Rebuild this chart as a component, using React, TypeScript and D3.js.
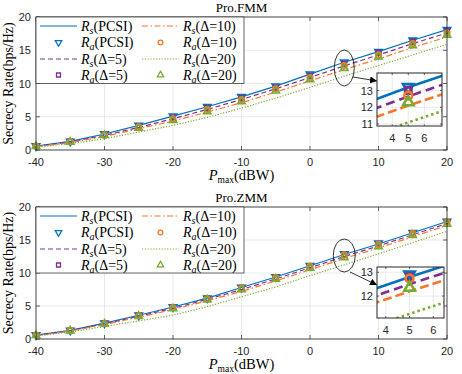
import React, { useRef, useEffect } from "react";
import * as d3 from "d3";

// transmit power grid (dBW)
const powers = [-40, -35, -30, -25, -20, -15, -10, -5, 0, 5, 10, 15, 20];
const xTicks = [-40, -30, -20, -10, 0, 10, 20];
const yTicks = [0, 5, 10, 15, 20];

// Pro.FMM
const fmmRsPcsi = [0.6, 1.3, 2.4, 3.7, 5.1, 6.5, 8.0, 9.6, 11.4, 13.2, 14.8, 16.5, 18.1];
const fmmRsD5 = [0.55, 1.2, 2.2, 3.4, 4.7, 6.1, 7.6, 9.2, 10.9, 12.65, 14.3, 16.0, 17.6];
const fmmRsD10 = [0.5, 1.1, 2.05, 3.2, 4.35, 5.7, 7.1, 8.7, 10.4, 12.1, 13.7, 15.4, 17.0];
const fmmRsD20 = [0.45, 0.95, 1.7, 2.7, 3.7, 4.9, 6.3, 7.8, 9.4, 11.1, 12.7, 14.3, 15.9];
const fmmRaPcsi = [0.6, 1.3, 2.4, 3.7, 5.1, 6.5, 8.0, 9.6, 11.4, 13.2, 14.8, 16.5, 18.1];
const fmmRaD5 = [0.6, 1.3, 2.35, 3.6, 4.9, 6.3, 7.8, 9.4, 11.2, 13.0, 14.6, 16.3, 17.9];
const fmmRaD10 = [0.6, 1.25, 2.3, 3.5, 4.7, 6.1, 7.6, 9.2, 10.9, 12.7, 14.3, 16.0, 17.6];
const fmmRaD20 = [0.55, 1.2, 2.2, 3.3, 4.45, 5.8, 7.3, 8.9, 10.6, 12.3, 14.0, 15.7, 17.3];

// Pro.ZMM
const zmmRsPcsi = [0.6, 1.3, 2.4, 3.6, 4.85, 6.2, 7.8, 9.4, 11.1, 12.8, 14.4, 16.1, 17.8];
const zmmRsD5 = [0.55, 1.25, 2.3, 3.45, 4.65, 6.0, 7.5, 9.1, 10.8, 12.5, 14.1, 15.8, 17.5];
const zmmRsD10 = [0.5, 1.2, 2.2, 3.3, 4.45, 5.8, 7.2, 8.8, 10.5, 12.2, 13.8, 15.5, 17.2];
const zmmRsD20 = [0.45, 1.05, 1.9, 2.75, 3.6, 4.9, 6.4, 7.9, 9.6, 11.25, 12.9, 14.6, 16.3];
const zmmRaPcsi = [0.6, 1.3, 2.4, 3.6, 4.85, 6.2, 7.8, 9.4, 11.1, 12.9, 14.5, 16.1, 17.8];
const zmmRaD5 = [0.6, 1.3, 2.4, 3.6, 4.8, 6.15, 7.75, 9.35, 11.05, 12.8, 14.4, 16.05, 17.75];
const zmmRaD10 = [0.6, 1.3, 2.35, 3.55, 4.75, 6.1, 7.7, 9.3, 11.0, 12.74, 14.35, 16.0, 17.7];
const zmmRaD20 = [0.55, 1.25, 2.3, 3.45, 4.6, 5.95, 7.5, 9.1, 10.75, 12.35, 14.0, 15.7, 17.4];

const labels = ["PCSI", "\u0394=5", "\u0394=10", "\u0394=20"];

const styles = [
  { color: "#0072BD", dash: null, insetDash: null, marker: "down" },
  { color: "#7E2F8E", dash: "5,3", insetDash: "9,5", marker: "square" },
  { color: "#F5782A", dash: "6,2.5,1.5,2.5", insetDash: "9,4", marker: "circle" },
  { color: "#77AC30", dash: "1.2,1.6", insetDash: "2.5,3", marker: "up" },
];

const AXIS = "#262626";
const GRID = "#e3e3e3";
const SERIF = "'Liberation Serif', 'DejaVu Serif', serif";
const SANS = "'Liberation Sans', Arial, sans-serif";

function markerPath(kind, size) {
  const type =
    kind === "square" ? d3.symbolSquare : kind === "circle" ? d3.symbolCircle : d3.symbolTriangle;
  return d3.symbol().type(type).size(size)();
}

function drawMarker(g, kind, cx, cy, size, color, width) {
  g.append("path")
    .attr("d", markerPath(kind, size))
    .attr("transform", `translate(${cx},${cy})${kind === "down" ? " rotate(180)" : ""}`)
    .attr("fill", "none")
    .attr("stroke", color)
    .attr("stroke-width", width);
}

// R with italic subscript, then the bracket part
function richLabel(text, sub, rest) {
  text.append("tspan").attr("font-style", "italic").text("R");
  text.append("tspan").attr("font-style", "italic").attr("font-size", 10).attr("dy", 3).text(sub);
  text.append("tspan").attr("dy", -3).text(`(${rest})`);
}

function drawPanel(svg, cfg) {
  const { top, bottom, title, rs, ra, inset, id } = cfg;
  const left = 36;
  const right = 447;
  const x = d3.scaleLinear().domain([-40, 20]).range([left, right]);
  const y = d3.scaleLinear().domain([0, 20]).range([bottom, top]);
  const g = svg.append("g");

  // grid
  g.selectAll(null)
    .data(xTicks)
    .enter()
    .append("line")
    .attr("x1", (d) => x(d))
    .attr("x2", (d) => x(d))
    .attr("y1", top)
    .attr("y2", bottom)
    .attr("stroke", GRID)
    .attr("stroke-width", 0.8);
  g.selectAll(null)
    .data(yTicks)
    .enter()
    .append("line")
    .attr("x1", left)
    .attr("x2", right)
    .attr("y1", (d) => y(d))
    .attr("y2", (d) => y(d))
    .attr("stroke", GRID)
    .attr("stroke-width", 0.8);

  // ticks (inward, all four sides)
  xTicks.forEach((t) => {
    g.append("line").attr("x1", x(t)).attr("x2", x(t)).attr("y1", bottom).attr("y2", bottom - 4).attr("stroke", AXIS).attr("stroke-width", 0.7);
    g.append("line").attr("x1", x(t)).attr("x2", x(t)).attr("y1", top).attr("y2", top + 4).attr("stroke", AXIS).attr("stroke-width", 0.7);
  });
  yTicks.forEach((t) => {
    g.append("line").attr("x1", left).attr("x2", left + 4).attr("y1", y(t)).attr("y2", y(t)).attr("stroke", AXIS).attr("stroke-width", 0.7);
    g.append("line").attr("x1", right).attr("x2", right - 4).attr("y1", y(t)).attr("y2", y(t)).attr("stroke", AXIS).attr("stroke-width", 0.7);
  });

  // tick labels
  g.selectAll(null)
    .data(xTicks)
    .enter()
    .append("text")
    .attr("x", (d) => x(d))
    .attr("y", bottom + 16)
    .attr("text-anchor", "middle")
    .attr("font-family", SANS)
    .attr("font-size", 11)
    .attr("fill", AXIS)
    .text((d) => d);
  g.selectAll(null)
    .data(yTicks)
    .enter()
    .append("text")
    .attr("x", left - 5)
    .attr("y", (d) => y(d) + 4)
    .attr("text-anchor", "end")
    .attr("font-family", SANS)
    .attr("font-size", 11)
    .attr("fill", AXIS)
    .text((d) => d);

  // series
  styles.forEach((s, i) => {
    const line = d3
      .line()
      .x((_d, j) => x(powers[j]))
      .y((d) => y(d));
    g.append("path")
      .attr("d", line(rs[i]))
      .attr("fill", "none")
      .attr("stroke", s.color)
      .attr("stroke-width", 1.2)
      .attr("stroke-dasharray", s.dash);
    ra[i].forEach((v, j) => drawMarker(g, s.marker, x(powers[j]), y(v), s.marker === "square" ? 20 : 24, s.color, 1.6));
  });

  // axes box
  g.append("rect")
    .attr("x", left)
    .attr("y", top)
    .attr("width", right - left)
    .attr("height", bottom - top)
    .attr("fill", "none")
    .attr("stroke", AXIS)
    .attr("stroke-width", 0.8);

  // title
  g.append("text")
    .attr("x", (left + right) / 2)
    .attr("y", top - 5)
    .attr("text-anchor", "middle")
    .attr("font-family", SERIF)
    .attr("font-size", 13)
    .attr("fill", "#000")
    .text(title);

  // x label
  const xl = g
    .append("text")
    .attr("x", (left + right) / 2)
    .attr("y", bottom + 30)
    .attr("text-anchor", "middle")
    .attr("font-family", SERIF)
    .attr("font-size", 14.5)
    .attr("fill", "#000");
  xl.append("tspan").attr("font-style", "italic").text("P");
  xl.append("tspan").attr("font-size", 9.5).attr("dy", 3).text("max");
  xl.append("tspan").attr("dy", -3).text("(dBW)");

  // y label
  g.append("text")
    .attr("transform", `translate(13,${(top + bottom) / 2}) rotate(-90)`)
    .attr("text-anchor", "middle")
    .attr("font-family", SERIF)
    .attr("font-size", 14)
    .attr("fill", "#000")
    .text("Secrecy Rate(bps/Hz)");

  // legend
  const lg = g.append("g").attr("transform", `translate(${left},${top})`);
  lg.append("rect")
    .attr("width", 208)
    .attr("height", y(10) - top)
    .attr("fill", "#fff")
    .attr("stroke", AXIS)
    .attr("stroke-width", 0.7);
  const rowY = [9, 25.5, 42, 58];
  styles.forEach((s, i) => {
    const col = i < 2 ? 0 : 1;
    const lx = col === 0 ? 4 : 106;
    const r1 = rowY[(i % 2) * 2];
    const r2 = rowY[(i % 2) * 2 + 1];
    lg.append("line")
      .attr("x1", lx)
      .attr("x2", lx + 37)
      .attr("y1", r1)
      .attr("y2", r1)
      .attr("stroke", s.color)
      .attr("stroke-width", 1.2)
      .attr("stroke-dasharray", s.dash);
    drawMarker(lg, s.marker, lx + 18.5, r2, s.marker === "square" ? 16 : 18, s.color, 1.3);
    const t1 = lg.append("text").attr("x", lx + 41).attr("y", r1 + 4.5).attr("font-family", SERIF).attr("font-size", 14).attr("fill", "#000");
    richLabel(t1, "s", labels[i]);
    const t2 = lg.append("text").attr("x", lx + 41).attr("y", r2 + 4.5).attr("font-family", SERIF).attr("font-size", 14).attr("fill", "#000");
    richLabel(t2, "a", labels[i]);
  });

  // zoom ellipse and arrow
  g.append("ellipse")
    .attr("cx", x(5))
    .attr("cy", cfg.ell.cy)
    .attr("rx", cfg.ell.rx)
    .attr("ry", cfg.ell.ry)
    .attr("fill", "none")
    .attr("stroke", "#000")
    .attr("stroke-width", 0.8);
  g.append("line")
    .attr("x1", cfg.arrow[0])
    .attr("y1", cfg.arrow[1])
    .attr("x2", cfg.arrow[2])
    .attr("y2", cfg.arrow[3])
    .attr("stroke", "#000")
    .attr("stroke-width", 0.8)
    .attr("marker-end", "url(#arrowhead)");

  // inset
  const ix = d3.scaleLinear().domain(inset.xd).range([inset.x0, inset.x1]);
  const iy = d3.scaleLinear().domain(inset.yd).range([inset.y1, inset.y0]);
  const ig = g.append("g");
  ig.append("rect")
    .attr("x", inset.x0)
    .attr("y", inset.y0)
    .attr("width", inset.x1 - inset.x0)
    .attr("height", inset.y1 - inset.y0)
    .attr("fill", "#fff");
  svg
    .select("defs")
    .append("clipPath")
    .attr("id", id)
    .append("rect")
    .attr("x", inset.x0)
    .attr("y", inset.y0)
    .attr("width", inset.x1 - inset.x0)
    .attr("height", inset.y1 - inset.y0);
  const ixt = [4, 5, 6];
  const iyt = [11, 12, 13].filter((t) => t >= inset.yd[0] && t <= inset.yd[1]);
  ixt.forEach((t) => {
    ig.append("line").attr("x1", ix(t)).attr("x2", ix(t)).attr("y1", inset.y0).attr("y2", inset.y1).attr("stroke", GRID).attr("stroke-width", 0.8);
    ig.append("line").attr("x1", ix(t)).attr("x2", ix(t)).attr("y1", inset.y1).attr("y2", inset.y1 - 2).attr("stroke", AXIS).attr("stroke-width", 0.7);
    ig.append("line").attr("x1", ix(t)).attr("x2", ix(t)).attr("y1", inset.y0).attr("y2", inset.y0 + 2).attr("stroke", AXIS).attr("stroke-width", 0.7);
    ig.append("text")
      .attr("x", ix(t))
      .attr("y", inset.y1 + 16)
      .attr("text-anchor", "middle")
      .attr("font-family", SANS)
      .attr("font-size", 11)
      .attr("fill", AXIS)
      .text(t);
  });
  iyt.forEach((t) => {
    ig.append("line").attr("x1", inset.x0).attr("x2", inset.x1).attr("y1", iy(t)).attr("y2", iy(t)).attr("stroke", GRID).attr("stroke-width", 0.8);
    ig.append("line").attr("x1", inset.x0).attr("x2", inset.x0 + 2).attr("y1", iy(t)).attr("y2", iy(t)).attr("stroke", AXIS).attr("stroke-width", 0.7);
    ig.append("line").attr("x1", inset.x1).attr("x2", inset.x1 - 2).attr("y1", iy(t)).attr("y2", iy(t)).attr("stroke", AXIS).attr("stroke-width", 0.7);
    ig.append("text")
      .attr("x", inset.x0 - 4)
      .attr("y", iy(t) + 4)
      .attr("text-anchor", "end")
      .attr("font-family", SANS)
      .attr("font-size", 11)
      .attr("fill", AXIS)
      .text(t);
  });
  const clipped = ig.append("g").attr("clip-path", `url(#${id})`);
  styles.forEach((s, i) => {
    const line = d3
      .line()
      .x((_d, j) => ix(powers[j]))
      .y((d) => iy(d));
    clipped
      .append("path")
      .attr("d", line(rs[i]))
      .attr("fill", "none")
      .attr("stroke", s.color)
      .attr("stroke-width", 2.6)
      .attr("stroke-dasharray", s.insetDash);
    ra[i].forEach((v, j) => {
      if (powers[j] >= inset.xd[0] && powers[j] <= inset.xd[1])
        drawMarker(clipped, s.marker, ix(powers[j]), iy(v), s.marker === "square" ? 40 : 48, s.color, 2.6);
    });
  });
  ig.append("rect")
    .attr("x", inset.x0)
    .attr("y", inset.y0)
    .attr("width", inset.x1 - inset.x0)
    .attr("height", inset.y1 - inset.y0)
    .attr("fill", "none")
    .attr("stroke", AXIS)
    .attr("stroke-width", 1);
}

export default function App() {
  const ref = useRef(null);

  useEffect(() => {
    const svg = d3.select(ref.current);
    svg.selectAll("*").remove();
    const defs = svg.append("defs");
    defs
      .append("marker")
      .attr("id", "arrowhead")
      .attr("viewBox", "0 0 10 10")
      .attr("refX", 10)
      .attr("refY", 5)
      .attr("markerWidth", 7)
      .attr("markerHeight", 7)
      .attr("markerUnits", "userSpaceOnUse")
      .attr("orient", "auto")
      .append("path")
      .attr("d", "M0,0 L10,5 L0,10 z")
      .attr("fill", "#000");

    drawPanel(svg, {
      id: "clipTop",
      top: 17,
      bottom: 150,
      title: "Pro.FMM",
      rs: [fmmRsPcsi, fmmRsD5, fmmRsD10, fmmRsD20],
      ra: [fmmRaPcsi, fmmRaD5, fmmRaD10, fmmRaD20],
      ell: { cy: 68, rx: 10, ry: 18 },
      arrow: [353, 77, 377, 81],
      inset: { x0: 377, x1: 442, y0: 73, y1: 126, xd: [3.05, 7.1], yd: [10.88, 14.05] },
    });
    drawPanel(svg, {
      id: "clipBottom",
      top: 207,
      bottom: 339,
      title: "Pro.ZMM",
      rs: [zmmRsPcsi, zmmRsD5, zmmRsD10, zmmRsD20],
      ra: [zmmRaPcsi, zmmRaD5, zmmRaD10, zmmRaD20],
      ell: { cy: 255.5, rx: 11, ry: 16.5 },
      arrow: [350, 272, 377, 285],
      inset: { x0: 377, x1: 444, y0: 267, y1: 318, xd: [3.63, 6.45], yd: [11.08, 13.22] },
    });
  }, []);

  return (
    <div style={{ position: "fixed", left: 0, top: 0 }}>
      <svg ref={ref} width={462} height={374} style={{ display: "block", background: "#fff" }} />
    </div>
  );
}
